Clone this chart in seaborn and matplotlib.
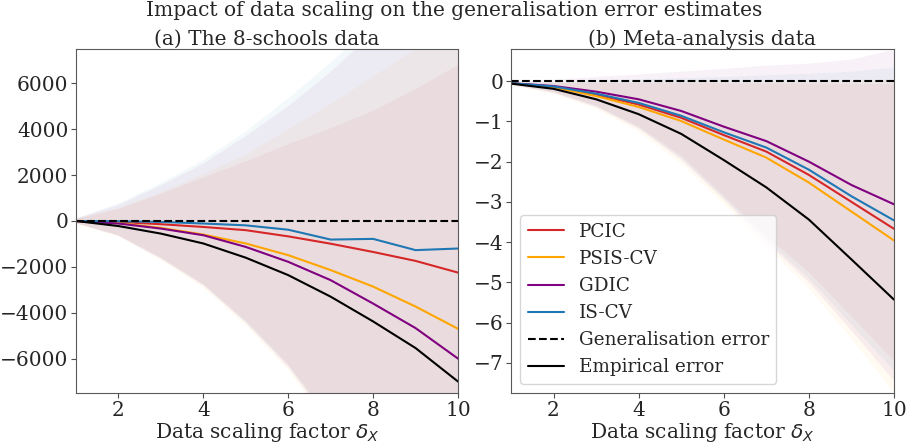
import numpy as np
import matplotlib
matplotlib.use("Agg")
import matplotlib.pyplot as plt
import seaborn as sns

sns.set_style("ticks")
plt.rcParams['font.family'] = ['DejaVu Serif', 'DejaVu Sans']
plt.rcParams['mathtext.fontset'] = 'dejavusans'

# data scaling factor
scale = [1, 2, 3, 4, 5, 6, 7, 8, 9, 10]

methods = ['PCIC', 'PSIS-CV', 'GDIC', 'IS-CV']
colors = ['tab:red', 'orange', 'purple', 'tab:blue']

# (a) 8-schools : mean estimates
pcic_a = [0, -40, -140, -260, -400, -670, -990, -1350, -1740, -2250]
psis_a = [0, -90, -300, -590, -980, -1490, -2140, -2860, -3730, -4700]
gdic_a = [0, -110, -330, -620, -1130, -1780, -2580, -3600, -4670, -6000]
iscv_a = [0, -10, -40, -110, -190, -380, -810, -780, -1270, -1200]
emp_a = [0, -220, -550, -980, -1600, -2360, -3300, -4380, -5540, -7000]

# (a) bands (upper / lower)
pcic_a_hi = [100, 530, 1180, 1900, 2600, 3350, 4050, 4800, 5750, 6800]
psis_a_hi = [100, 560, 1250, 2050, 2900, 4000, 5100, 6300, 7500, 8900]
gdic_a_hi = [100, 700, 1550, 2500, 3700, 5000, 6500, 8200, 10000, 12000]
iscv_a_hi = [120, 760, 1650, 2650, 3900, 5350, 6900, 8600, 10400, 12300]
pcic_a_lo = [-100, -620, -1600, -2750, -4350, -6250, -8700, -11500, -14500, -18000]
psis_a_lo = [-110, -680, -1700, -2900, -4550, -6500, -9000, -11900, -15000, -18600]
gdic_a_lo = [-105, -650, -1650, -2820, -4450, -6380, -8850, -11700, -14700, -18300]
iscv_a_lo = [-100, -630, -1620, -2780, -4400, -6300, -8750, -11600, -14600, -18100]

# (b) meta-analysis : mean estimates
pcic_b = [-0.05, -0.14, -0.33, -0.58, -0.91, -1.34, -1.75, -2.33, -3.00, -3.67]
psis_b = [-0.05, -0.15, -0.37, -0.64, -0.99, -1.45, -1.90, -2.52, -3.24, -3.96]
gdic_b = [-0.05, -0.12, -0.26, -0.45, -0.74, -1.13, -1.49, -2.00, -2.58, -3.06]
iscv_b = [-0.05, -0.13, -0.31, -0.54, -0.86, -1.27, -1.65, -2.20, -2.86, -3.46]
emp_b = [-0.06, -0.19, -0.45, -0.82, -1.31, -1.96, -2.64, -3.44, -4.43, -5.43]

# (b) bands (upper / lower)
pcic_b_hi = [-0.03, -0.03, -0.03, -0.03, -0.03, -0.04, -0.04, -0.05, -0.05, -0.06]
psis_b_hi = [-0.02, -0.01, 0.0, 0.0, 0.01, 0.02, 0.02, 0.03, 0.04, 0.05]
gdic_b_hi = [0.0, 0.05, 0.12, 0.18, 0.25, 0.32, 0.40, 0.45, 0.55, 0.80]
iscv_b_hi = [-0.02, 0.0, 0.03, 0.06, 0.09, 0.12, 0.16, 0.20, 0.25, 0.35]
pcic_b_lo = [-0.08, -0.26, -0.60, -1.12, -1.85, -2.85, -3.85, -4.75, -5.85, -6.95]
psis_b_lo = [-0.09, -0.30, -0.68, -1.25, -2.05, -3.05, -4.10, -5.15, -6.40, -7.75]
gdic_b_lo = [-0.08, -0.28, -0.64, -1.18, -1.95, -2.95, -4.00, -5.00, -6.20, -7.45]
iscv_b_lo = [-0.08, -0.27, -0.62, -1.15, -1.90, -2.90, -3.95, -4.90, -6.05, -7.20]

panel_a = dict(means=[pcic_a, psis_a, gdic_a, iscv_a],
               hi=[pcic_a_hi, psis_a_hi, gdic_a_hi, iscv_a_hi],
               lo=[pcic_a_lo, psis_a_lo, gdic_a_lo, iscv_a_lo],
               emp=emp_a, title='(a) The 8-schools data',
               ylim=(-7500, 7500), yticks=[-6000, -4000, -2000, 0, 2000, 4000, 6000])
panel_b = dict(means=[pcic_b, psis_b, gdic_b, iscv_b],
               hi=[pcic_b_hi, psis_b_hi, gdic_b_hi, iscv_b_hi],
               lo=[pcic_b_lo, psis_b_lo, gdic_b_lo, iscv_b_lo],
               emp=emp_b, title='(b) Meta-analysis data',
               ylim=(-7.75, 0.8), yticks=[-7, -6, -5, -4, -3, -2, -1, 0])

fs = 14.5
fig = plt.figure(figsize=(9.08, 4.46), dpi=100)
ax1 = fig.add_axes([76 / 908, 53 / 446, 382 / 908, 344 / 446])
ax2 = fig.add_axes([511 / 908, 53 / 446, 383 / 908, 344 / 446])

for ax, p in [(ax1, panel_a), (ax2, panel_b)]:
    for m, c, mu, hi, lo in zip(methods, colors, p['means'], p['hi'], p['lo']):
        ax.fill_between(scale, lo, hi, color=c, alpha=0.05, linewidth=0)
    for m, c, mu in zip(methods, colors, p['means']):
        sns.lineplot(x=scale, y=mu, ax=ax, color=c, label=m, linewidth=1.5)
    ax.axhline(0, color='black', linestyle='--', linewidth=1.5,
               label='Generalisation error')
    sns.lineplot(x=scale, y=p['emp'], ax=ax, color='black', label='Empirical error',
                 linewidth=1.5)
    ax.set_xlim(1, 10)
    ax.set_ylim(*p['ylim'])
    ax.set_xticks([2, 4, 6, 8, 10])
    ax.set_yticks(p['yticks'])
    ax.tick_params(labelsize=fs, color='0.3', pad=2)
    for s in ax.spines.values():
        s.set_color('0.35')
    ax.set_title(p['title'], fontsize=fs, pad=3)
    ax.set_xlabel(r'Data scaling factor $\delta_X$', fontsize=fs, labelpad=1)

ax1.get_legend().remove()
ax2.legend(loc='lower left', fontsize=13.2, handlelength=2.0)

fig.suptitle('Impact of data scaling on the generalisation error estimates',
             fontsize=fs, y=0.998, va='top')

fig.savefig('out.png', dpi=100)
